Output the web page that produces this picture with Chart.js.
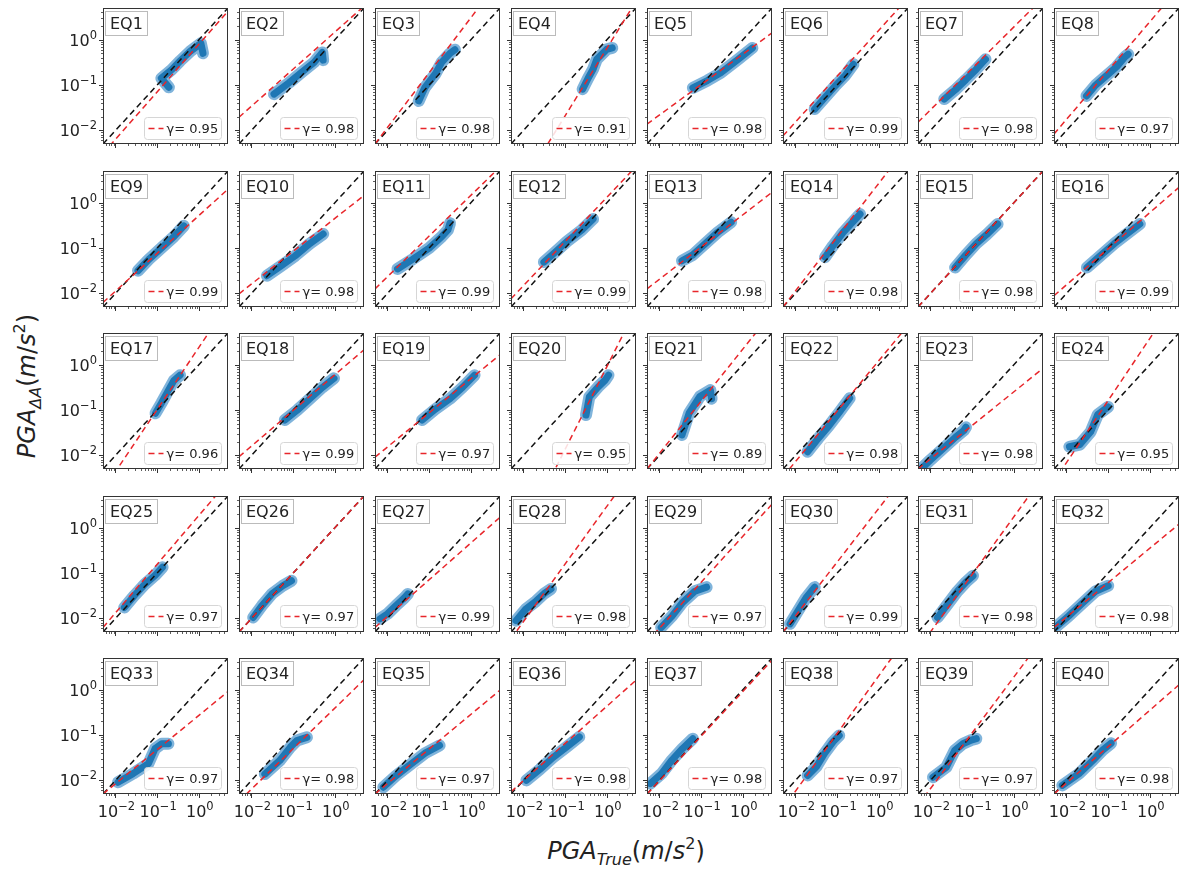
<!DOCTYPE html>
<html>
<head>
<meta charset="utf-8">
<script src="https://cdn.jsdelivr.net/npm/chart.js@4.4.0/dist/chart.umd.min.js"></script>
<style>
  body { margin: 0; background: #fff; }
  #fig { position: relative; width: 1182px; height: 869px; overflow: hidden; font-family: "DejaVu Sans"; }
  #fig canvas { position: absolute; }
  .axlab { position: absolute; font-size: 24px; color: #222; white-space: nowrap; line-height: 1; }
  .axlab i { font-style: italic; }
  .axlab .sb { font-size: 16px; position: relative; top: 6px; }
  .axlab .sp { font-size: 16px; position: relative; top: -10px; }
  #ylab { left: 27px; top: 386px; transform: translate(-50%, -50%) rotate(-90deg); }
  #xlab { left: 626px; top: 851px; transform: translate(-50%, -50%); }
</style>
</head>
<body>
<div id="fig">
  <div class="axlab" id="ylab"><i>PGA</i><span class="sb"><i>ΔA</i></span>(<i>m</i>/<i>s</i><span class="sp">2</span>)</div>
  <div class="axlab" id="xlab"><i>PGA</i><span class="sb"><i>True</i></span>(<i>m</i>/<i>s</i><span class="sp">2</span>)</div>
</div>
<script>
// ---- data (log10 values) ----
const eqLabels = ['EQ1','EQ2','EQ3','EQ4','EQ5','EQ6','EQ7','EQ8',
                  'EQ9','EQ10','EQ11','EQ12','EQ13','EQ14','EQ15','EQ16',
                  'EQ17','EQ18','EQ19','EQ20','EQ21','EQ22','EQ23','EQ24',
                  'EQ25','EQ26','EQ27','EQ28','EQ29','EQ30','EQ31','EQ32',
                  'EQ33','EQ34','EQ35','EQ36','EQ37','EQ38','EQ39','EQ40'];

const gammaValues = [0.95,0.98,0.98,0.91,0.98,0.99,0.98,0.97,
                     0.99,0.98,0.99,0.99,0.98,0.98,0.98,0.99,
                     0.96,0.99,0.97,0.95,0.89,0.98,0.98,0.95,
                     0.97,0.97,0.99,0.98,0.97,0.99,0.98,0.98,
                     0.97,0.98,0.97,0.98,0.98,0.97,0.97,0.98];

// red fit line: log10(PGA_dA) at the left and right axis limits
const fitLogAtMin = [-2.51,-1.71,-2.30,-3.61,-1.86,-2.12,-1.82,-2.08,
                     -2.20,-2.01,-1.90,-2.12,-1.90,-2.30,-2.30,-2.05,
                     -2.77,-2.03,-2.04,-4.23,-2.30,-2.47,-2.30,-2.57,
                     -2.20,-2.30,-2.20,-2.45,-2.52,-2.30,-2.68,-2.20,
                     -2.30,-2.46,-2.30,-2.25,-2.30,-2.62,-2.55,-2.30];
const fitLogAtMax = [0.63,0.74,1.33,0.85,0.15,0.92,0.92,1.15,
                     0.30,0.16,0.79,0.80,0.23,1.26,0.70,0.34,
                     1.34,0.33,0.22,1.23,1.15,0.87,-0.08,1.54,
                     1.02,0.70,0.23,1.36,0.52,1.26,1.13,0.08,
                     -0.04,0.22,-0.01,0.21,0.65,1.20,1.14,0.11];

// blue point cloud, traced along its spine (log10 PGA_True, log10 PGA_dA)
const cloudLogX = [
  [-0.72,-0.9,-0.65,-0.45,-0.2,0.05,0.1],
  [-1.46,-1.1,-0.8,-0.5,-0.3,-0.28],
  [-1.25,-1.1,-0.85,-0.7,-0.5,-0.38],
  [-0.58,-0.45,-0.33,-0.24,0.0,0.13],
  [-1.2,-0.85,-0.53,-0.11,0.23],
  [-1.54,-1.3,-1.05,-0.8,-0.61],
  [-1.67,-1.4,-1.15,-0.9,-0.68],
  [-1.52,-1.3,-1.05,-0.8,-0.6,-0.52],
  [-1.46,-1.2,-0.9,-0.6,-0.36],
  [-1.63,-1.3,-0.95,-0.6,-0.28],
  [-1.76,-1.4,-1.0,-0.7,-0.55,-0.5],
  [-1.51,-1.25,-0.95,-0.6,-0.33],
  [-1.46,-1.2,-0.9,-0.6,-0.28],
  [-1.29,-1.1,-0.85,-0.6,-0.45],
  [-1.41,-1.15,-0.9,-0.65,-0.39],
  [-1.51,-1.2,-0.85,-0.5,-0.24],
  [-1.04,-0.9,-0.75,-0.6,-0.45],
  [-1.2,-0.9,-0.6,-0.3,-0.02],
  [-1.17,-0.85,-0.5,-0.2,0.09],
  [-0.5,-0.42,-0.21,-0.04,0.04],
  [-1.46,-1.29,-1.03,-0.78,-0.75],
  [-1.71,-1.45,-1.2,-0.95,-0.7],
  [-2.25,-2.0,-1.7,-1.4,-1.2,-1.15],
  [-1.93,-1.68,-1.42,-1.25,-1.0],
  [-1.79,-1.55,-1.3,-1.05,-0.87],
  [-1.96,-1.75,-1.5,-1.25,-1.04],
  [-2.18,-2.0,-1.8,-1.6,-1.51],
  [-2.18,-1.95,-1.7,-1.5,-1.34],
  [-1.96,-1.7,-1.45,-1.15,-0.87],
  [-2.13,-1.95,-1.75,-1.54],
  [-1.83,-1.6,-1.35,-1.15,-0.98],
  [-2.27,-1.95,-1.6,-1.3,-1.0],
  [-1.94,-1.58,-1.21,-1.05,-0.89,-0.73],
  [-1.68,-1.32,-1.07,-0.91,-0.67],
  [-2.1,-1.8,-1.45,-1.1,-0.75],
  [-1.93,-1.6,-1.3,-0.95,-0.66],
  [-2.22,-1.95,-1.7,-1.45,-1.2],
  [-1.71,-1.5,-1.3,-1.1,-0.95],
  [-1.94,-1.62,-1.42,-1.22,-1.02,-0.9],
  [-2.1,-1.7,-1.37,-1.13,-0.93]
];
const cloudLogY = [
  [-1.05,-0.85,-0.66,-0.47,-0.25,-0.08,-0.3],
  [-1.2,-0.95,-0.72,-0.5,-0.28,-0.45],
  [-1.35,-1.05,-0.75,-0.5,-0.3,-0.22],
  [-1.09,-0.85,-0.65,-0.43,-0.21,-0.18],
  [-1.06,-0.9,-0.73,-0.43,-0.18],
  [-1.53,-1.28,-1.02,-0.78,-0.54],
  [-1.31,-1.1,-0.88,-0.65,-0.43],
  [-1.24,-1.0,-0.8,-0.6,-0.38,-0.32],
  [-1.5,-1.25,-1.0,-0.75,-0.51],
  [-1.61,-1.4,-1.17,-0.9,-0.69],
  [-1.46,-1.25,-1.0,-0.75,-0.6,-0.45],
  [-1.31,-1.1,-0.85,-0.6,-0.36],
  [-1.28,-1.15,-0.9,-0.65,-0.43],
  [-1.2,-0.95,-0.65,-0.4,-0.25],
  [-1.43,-1.15,-0.9,-0.7,-0.47],
  [-1.43,-1.18,-0.9,-0.65,-0.47],
  [-1.07,-0.85,-0.6,-0.35,-0.23],
  [-1.22,-1.0,-0.75,-0.5,-0.3],
  [-1.22,-0.98,-0.75,-0.5,-0.23],
  [-1.11,-0.71,-0.49,-0.34,-0.23],
  [-1.55,-1.07,-0.7,-0.56,-0.75],
  [-1.92,-1.62,-1.35,-1.05,-0.74],
  [-2.32,-2.1,-1.85,-1.6,-1.45,-1.38],
  [-1.81,-1.76,-1.48,-1.1,-0.93],
  [-1.76,-1.5,-1.25,-1.05,-0.87],
  [-1.98,-1.72,-1.45,-1.28,-1.17],
  [-2.01,-1.9,-1.72,-1.55,-1.46],
  [-2.05,-1.8,-1.62,-1.45,-1.35],
  [-2.2,-1.95,-1.65,-1.4,-1.31],
  [-2.12,-1.85,-1.55,-1.31],
  [-1.98,-1.7,-1.4,-1.2,-1.06],
  [-2.2,-1.95,-1.65,-1.4,-1.28],
  [-2.04,-1.85,-1.63,-1.3,-1.19,-1.19],
  [-1.86,-1.56,-1.27,-1.12,-1.05],
  [-2.15,-1.9,-1.65,-1.4,-1.23],
  [-2.0,-1.75,-1.5,-1.25,-1.04],
  [-2.07,-1.85,-1.55,-1.3,-1.08],
  [-1.89,-1.7,-1.4,-1.15,-1.01],
  [-1.93,-1.71,-1.34,-1.19,-1.11,-1.08],
  [-2.11,-1.85,-1.56,-1.33,-1.18]
];

const axisLogRange = [-2.3, 0.7];
const majorTicks = [0.01, 0.1, 1];
const tickExponents = ['−2', '−1', '0'];   // labels read as 10^-2, 10^-1, 10^0
const minorTicks = [0.006, 0.007, 0.008, 0.009,
                    0.02, 0.03, 0.04, 0.05, 0.06, 0.07, 0.08, 0.09,
                    0.2, 0.3, 0.4, 0.5, 0.6, 0.7, 0.8, 0.9,
                    2, 3, 4];

// ---- layout ----
const PLOT_W = 125, PLOT_H = 136;
const PAD_L = 50, PAD_R = 8, PAD_T = 16, PAD_B = 34;
const COL0 = 103, COL_STEP = 135.9, ROW0 = 8, ROW_STEP = 162.5;
const FONT = '"DejaVu Sans"';

const lo = Math.pow(10, axisLogRange[0]);
const hi = Math.pow(10, axisLogRange[1]);

// "10" with a raised exponent, like matplotlib's log tick labels
function drawPower(ctx, exp, x, y, align) {
  ctx.font = '16px ' + FONT;
  const wb = ctx.measureText('10').width;
  ctx.font = '11.5px ' + FONT;
  const we = ctx.measureText(exp).width;
  const total = wb + we;
  const x0 = align === 'right' ? x - total : x - total / 2;
  ctx.textAlign = 'left';
  ctx.textBaseline = 'alphabetic';
  ctx.font = '16px ' + FONT;
  ctx.fillText('10', x0, y);
  ctx.font = '11.5px ' + FONT;
  ctx.fillText(exp, x0 + wb, y - 7);
}

const panelDecor = {
  id: 'panelDecor',
  afterDatasetsDraw(chart, args, opts) {
    const { ctx, chartArea: a, scales } = chart;
    ctx.save();
    // frame
    ctx.strokeStyle = '#333';
    ctx.lineWidth = 1;
    ctx.strokeRect(a.left + 0.5, a.top + 0.5, a.right - a.left - 1, a.bottom - a.top - 1);

    // tick marks (outward, left and bottom)
    const mark = (v, len) => {
      const x = Math.round(scales.x.getPixelForValue(v)) + 0.5;
      ctx.beginPath(); ctx.moveTo(x, a.bottom); ctx.lineTo(x, a.bottom + len); ctx.stroke();
      const y = Math.round(scales.y.getPixelForValue(v)) + 0.5;
      ctx.beginPath(); ctx.moveTo(a.left, y); ctx.lineTo(a.left - len, y); ctx.stroke();
    };
    ctx.lineWidth = 1;
    majorTicks.forEach(v => mark(v, 4));
    ctx.lineWidth = 0.8;
    minorTicks.forEach(v => mark(v, 2));

    // tick labels
    ctx.fillStyle = '#222';
    majorTicks.forEach((v, k) => {
      if (opts.showY) drawPower(ctx, tickExponents[k], a.left - 6, scales.y.getPixelForValue(v) + 6, 'right');
      if (opts.showX) drawPower(ctx, tickExponents[k], scales.x.getPixelForValue(v) + 1, a.bottom + 23, 'center');
    });

    // EQ label box (upper left)
    ctx.font = '16px ' + FONT;
    const tw = ctx.measureText(opts.name).width;
    const bx = a.left + 2.5, by = a.top + 3.5, bw = Math.round(tw + 9), bh = 24;
    ctx.fillStyle = 'rgba(255,255,255,0.9)';
    ctx.fillRect(bx, by, bw, bh);
    ctx.strokeStyle = '#bbb';
    ctx.lineWidth = 1;
    ctx.strokeRect(bx, by, bw, bh);
    ctx.fillStyle = '#222';
    ctx.textBaseline = 'middle';
    ctx.textAlign = 'left';
    ctx.fillText(opts.name, bx + 4.5, by + bh / 2 + 1);

    // legend (lower right)
    const lw = 77, lh = 22;
    const lx = a.right - 7 - lw + 0.5, ly = a.bottom - 5 - lh + 0.5;
    ctx.fillStyle = 'rgba(255,255,255,0.85)';
    ctx.strokeStyle = '#d6d6d6';
    ctx.beginPath();
    ctx.roundRect(lx, ly, lw, lh, 3);
    ctx.fill(); ctx.stroke();
    ctx.strokeStyle = '#e8262b';
    ctx.lineWidth = 1.6;
    ctx.setLineDash([6, 4]);
    ctx.beginPath(); ctx.moveTo(lx + 4, ly + lh / 2); ctx.lineTo(lx + 19, ly + lh / 2); ctx.stroke();
    ctx.setLineDash([]);
    ctx.fillStyle = '#222';
    ctx.font = '13px ' + FONT;
    ctx.fillText('γ= ' + opts.gamma.toFixed(2), lx + 22, ly + lh / 2 + 1);
    ctx.restore();
  }
};

const fig = document.getElementById('fig');

eqLabels.forEach((name, i) => {
  const r = Math.floor(i / 8), c = i % 8;
  const left = Math.round(COL0 + c * COL_STEP) - PAD_L;
  const top = Math.round(ROW0 + r * ROW_STEP) - PAD_T;
  const cv = document.createElement('canvas');
  cv.width = PAD_L + PLOT_W + PAD_R;
  cv.height = PAD_T + PLOT_H + PAD_B;
  cv.style.left = left + 'px';
  cv.style.top = top + 'px';
  fig.appendChild(cv);

  const cloud = cloudLogX[i].map((lx, k) => ({ x: Math.pow(10, lx), y: Math.pow(10, cloudLogY[i][k]) }));

  new Chart(cv.getContext('2d'), {
    type: 'scatter',
    data: {
      datasets: [
        { // fit line
          data: [{ x: lo, y: Math.pow(10, fitLogAtMin[i]) }, { x: hi, y: Math.pow(10, fitLogAtMax[i]) }],
          showLine: true, borderColor: '#e8262b', borderWidth: 1.5, borderDash: [6, 4],
          pointRadius: 0, order: 0
        },
        { // 1:1 line
          data: [{ x: lo, y: lo }, { x: hi, y: hi }],
          showLine: true, borderColor: '#111', borderWidth: 1.5, borderDash: [6, 4],
          pointRadius: 0, order: 1
        },
        { // cloud core
          data: cloud, showLine: true, borderColor: '#1f77b4', borderWidth: 7,
          borderCapStyle: 'round', borderJoinStyle: 'round', pointRadius: 0, order: 2
        },
        { // cloud halo
          data: cloud, showLine: true, borderColor: 'rgba(60,140,200,0.65)', borderWidth: 12,
          borderCapStyle: 'round', borderJoinStyle: 'round', pointRadius: 0, order: 3
        }
      ]
    },
    options: {
      responsive: false,
      animation: false,
      devicePixelRatio: 1,
      layout: { padding: { top: PAD_T, right: PAD_R, left: 0, bottom: 0 } },
      plugins: {
        legend: { display: false },
        tooltip: { enabled: false },
        panelDecor: { name: name, gamma: gammaValues[i], showX: r === 4, showY: c === 0 }
      },
      scales: {
        x: {
          type: 'logarithmic', min: lo, max: hi,
          afterBuildTicks: s => { s.ticks = majorTicks.map(v => ({ value: v })); },
          afterFit: s => { s.height = PAD_B; },
          grid: { display: false },
          border: { display: false },
          ticks: { display: false }
        },
        y: {
          type: 'logarithmic', min: lo, max: hi,
          afterBuildTicks: s => { s.ticks = majorTicks.map(v => ({ value: v })); },
          afterFit: s => { s.width = PAD_L; },
          grid: { display: false },
          border: { display: false },
          ticks: { display: false }
        }
      }
    },
    plugins: [panelDecor]
  });
});
</script>
</body>
</html>
